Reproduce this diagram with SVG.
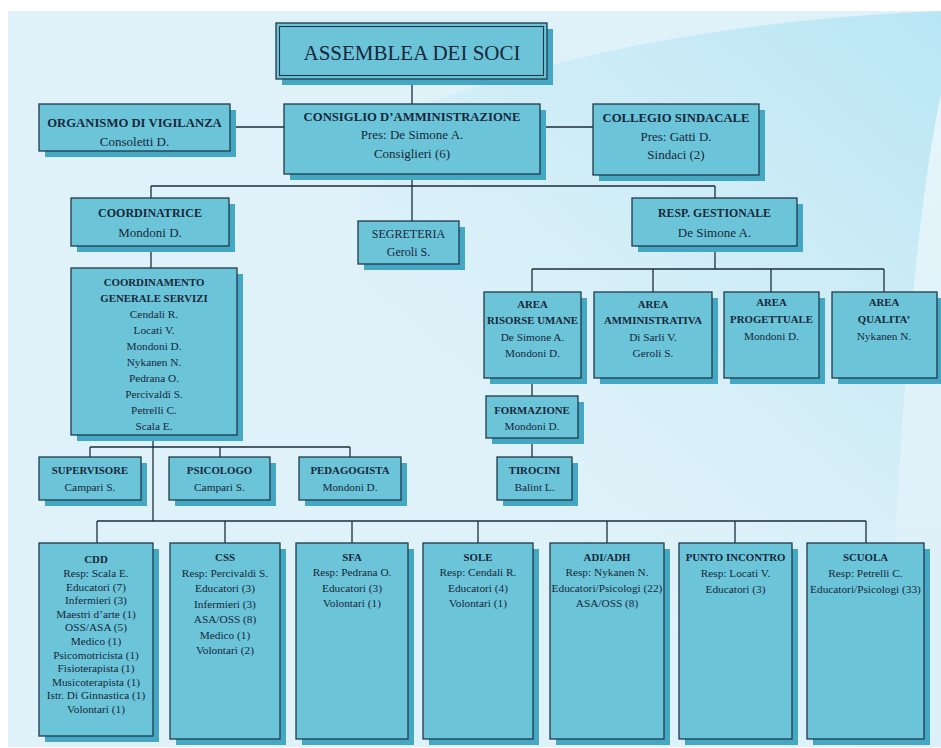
<svg xmlns="http://www.w3.org/2000/svg" width="941" height="748" viewBox="0 0 941 748">
<defs>
<linearGradient id="sw" gradientUnits="userSpaceOnUse" x1="941" y1="20" x2="520" y2="520">
<stop offset="0" stop-color="#b9e6f5" stop-opacity="1"/>
<stop offset="0.55" stop-color="#c9ebf6" stop-opacity="0.6"/>
<stop offset="1" stop-color="#dcf0f8" stop-opacity="0"/>
</linearGradient>
<linearGradient id="sl" gradientUnits="userSpaceOnUse" x1="941" y1="100" x2="941" y2="700">
<stop offset="0" stop-color="#e4f5fb"/>
<stop offset="1" stop-color="#dcf0f8"/>
</linearGradient>
</defs>
<style>
.sh{fill:#44a8c4}
.bx{fill:#6cc4d9;stroke:#23394b;stroke-width:1.3}
.t{font-family:"Liberation Serif","Times New Roman",serif;text-anchor:middle;fill:#16283a}
.b{font-weight:bold}
.f13{font-size:13px}
.f12{font-size:12px}
.f11{font-size:11.3px}
.f10{font-size:10.8px}
#connectors line{stroke:#1d2d3b;stroke-width:1.3}
</style>
<rect x="0" y="0" width="941" height="748" fill="#ffffff"/>
<rect x="8" y="11" width="933" height="736" fill="#dff2f9"/>
<path d="M 360 130 Q 600 25 941 11 L 941 95 Q 905 260 885 747 L 360 747 Z" fill="url(#sw)"/>
<path d="M 941 95 Q 905 260 885 747 L 941 747 Z" fill="url(#sl)"/>

<g id="connectors">
<line x1="412" y1="79" x2="412" y2="104"/>
<line x1="230" y1="127" x2="284" y2="127"/>
<line x1="540" y1="127" x2="593" y2="127"/>
<line x1="412" y1="174" x2="412" y2="186"/>
<line x1="151" y1="186" x2="715" y2="186"/>
<line x1="151" y1="186" x2="151" y2="198"/>
<line x1="412" y1="186" x2="412" y2="221"/>
<line x1="715" y1="186" x2="715" y2="198"/>
<line x1="151" y1="246" x2="151" y2="268"/>
<line x1="153" y1="435" x2="153" y2="521"/>
<line x1="90" y1="447" x2="350" y2="447"/>
<line x1="90" y1="447" x2="90" y2="457"/>
<line x1="220" y1="447" x2="220" y2="457"/>
<line x1="350" y1="447" x2="350" y2="457"/>
<line x1="715" y1="246" x2="715" y2="269"/>
<line x1="532" y1="269" x2="884" y2="269"/>
<line x1="532" y1="269" x2="532" y2="292"/>
<line x1="653" y1="269" x2="653" y2="292"/>
<line x1="771" y1="269" x2="771" y2="292"/>
<line x1="884" y1="269" x2="884" y2="292"/>
<line x1="532" y1="378" x2="532" y2="396"/>
<line x1="532" y1="438" x2="532" y2="457"/>
<line x1="97" y1="521" x2="866" y2="521"/>
<line x1="97" y1="521" x2="97" y2="543"/>
<line x1="225" y1="521" x2="225" y2="543"/>
<line x1="352" y1="521" x2="352" y2="543"/>
<line x1="478" y1="521" x2="478" y2="543"/>
<line x1="607" y1="521" x2="607" y2="543"/>
<line x1="735" y1="521" x2="735" y2="543"/>
<line x1="866" y1="521" x2="866" y2="543"/>
</g>

<g id="assemblea">
<rect class="sh" x="282" y="29" width="271" height="56"/>
<rect class="bx" x="276" y="23" width="271" height="56"/>
<rect x="279.5" y="26.5" width="264" height="49" fill="none" stroke="#23394b" stroke-width="1.1"/>
<text class="t" x="412" y="60" font-size="21">ASSEMBLEA DEI SOCI</text>
</g>

<g id="organismo">
<rect class="sh" x="45" y="110" width="191" height="47"/>
<rect class="bx" x="39" y="104" width="191" height="47"/>
<text class="t b" x="134.5" y="127" font-size="12.7">ORGANISMO DI VIGILANZA</text>
<text class="t f13" x="134.5" y="146">Consoletti D.</text>
</g>

<g id="consiglio">
<rect class="sh" x="290" y="110" width="256" height="70"/>
<rect class="bx" x="284" y="104" width="256" height="70"/>
<text class="t b" x="412" y="121" font-size="12.7">CONSIGLIO D’AMMINISTRAZIONE</text>
<text class="t f13" x="412" y="139">Pres: De Simone A.</text>
<text class="t f13" x="412" y="158">Consiglieri (6)</text>
</g>

<g id="collegio">
<rect class="sh" x="599" y="110" width="166" height="71"/>
<rect class="bx" x="593" y="104" width="166" height="71"/>
<text class="t b" x="676" y="122" font-size="12.7">COLLEGIO SINDACALE</text>
<text class="t f13" x="676" y="141">Pres: Gatti D.</text>
<text class="t f13" x="676" y="159">Sindaci (2)</text>
</g>

<g id="coordinatrice">
<rect class="sh" x="77" y="204" width="158" height="48"/>
<rect class="bx" x="71" y="198" width="158" height="48"/>
<text class="t b f12" x="150" y="217">COORDINATRICE</text>
<text class="t f13" x="150" y="237">Mondoni D.</text>
</g>

<g id="segreteria">
<rect class="sh" x="364" y="227" width="101" height="43"/>
<rect class="bx" x="358" y="221" width="101" height="43"/>
<text class="t f12" x="408.5" y="238">SEGRETERIA</text>
<text class="t f12" x="408.5" y="256">Geroli S.</text>
</g>

<g id="resp-gestionale">
<rect class="sh" x="638" y="204" width="165" height="48"/>
<rect class="bx" x="632" y="198" width="165" height="48"/>
<text class="t b" x="714.5" y="217" font-size="11.8">RESP. GESTIONALE</text>
<text class="t f13" x="714.5" y="237">De Simone A.</text>
</g>

<g id="coordinamento">
<rect class="sh" x="77" y="274" width="166" height="167"/>
<rect class="bx" x="71" y="268" width="166" height="167"/>
<text class="t b f10" x="154" y="286">COORDINAMENTO</text>
<text class="t b f10" x="154" y="302">GENERALE SERVIZI</text>
<text class="t f11" x="154" y="318">Cendali R.</text>
<text class="t f11" x="154" y="334">Locati V.</text>
<text class="t f11" x="154" y="350">Mondoni D.</text>
<text class="t f11" x="154" y="366">Nykanen N.</text>
<text class="t f11" x="154" y="382">Pedrana O.</text>
<text class="t f11" x="154" y="398">Percivaldi S.</text>
<text class="t f11" x="154" y="414">Petrelli C.</text>
<text class="t f11" x="154" y="430">Scala E.</text>
</g>

<g id="supervisore">
<rect class="sh" x="45" y="463" width="102" height="43"/>
<rect class="bx" x="39" y="457" width="102" height="43"/>
<text class="t b f10" x="90" y="474">SUPERVISORE</text>
<text class="t f11" x="90" y="491">Campari S.</text>
</g>

<g id="psicologo">
<rect class="sh" x="175" y="463" width="101" height="43"/>
<rect class="bx" x="169" y="457" width="101" height="43"/>
<text class="t b f10" x="219.5" y="474">PSICOLOGO</text>
<text class="t f11" x="219.5" y="491">Campari S.</text>
</g>

<g id="pedagogista">
<rect class="sh" x="305" y="463" width="102" height="43"/>
<rect class="bx" x="299" y="457" width="102" height="43"/>
<text class="t b f10" x="350" y="474">PEDAGOGISTA</text>
<text class="t f11" x="350" y="491">Mondoni D.</text>
</g>

<g id="area-risorse-umane">
<rect class="sh" x="490" y="298" width="97" height="86"/>
<rect class="bx" x="484" y="292" width="97" height="86"/>
<text class="t b f10" x="532.5" y="308">AREA</text>
<text class="t b f10" x="532.5" y="324">RISORSE UMANE</text>
<text class="t f11" x="532.5" y="341">De Simone A.</text>
<text class="t f11" x="532.5" y="357">Mondoni D.</text>
</g>

<g id="area-amministrativa">
<rect class="sh" x="600" y="298" width="118" height="86"/>
<rect class="bx" x="594" y="292" width="118" height="86"/>
<text class="t b f10" x="653" y="308">AREA</text>
<text class="t b f10" x="653" y="324">AMMINISTRATIVA</text>
<text class="t f11" x="653" y="341">Di Sarli V.</text>
<text class="t f11" x="653" y="357">Geroli S.</text>
</g>

<g id="area-progettuale">
<rect class="sh" x="730" y="298" width="95" height="86"/>
<rect class="bx" x="724" y="292" width="95" height="86"/>
<text class="t b f10" x="771.5" y="306">AREA</text>
<text class="t b f10" x="771.5" y="323">PROGETTUALE</text>
<text class="t f11" x="771.5" y="340">Mondoni D.</text>
</g>

<g id="area-qualita">
<rect class="sh" x="838" y="298" width="105" height="86"/>
<rect class="bx" x="832" y="292" width="105" height="86"/>
<text class="t b f10" x="884" y="306">AREA</text>
<text class="t b f10" x="884" y="323">QUALITA’</text>
<text class="t f11" x="884" y="340">Nykanen N.</text>
</g>

<g id="formazione">
<rect class="sh" x="492" y="402" width="92" height="42"/>
<rect class="bx" x="486" y="396" width="92" height="42"/>
<text class="t b f10" x="532" y="414">FORMAZIONE</text>
<text class="t f11" x="532" y="430">Mondoni D.</text>
</g>

<g id="tirocini">
<rect class="sh" x="503" y="463" width="75" height="43"/>
<rect class="bx" x="497" y="457" width="75" height="43"/>
<text class="t b f10" x="534.5" y="474">TIROCINI</text>
<text class="t f11" x="534.5" y="491">Balint L.</text>
</g>

<g id="cdd">
<rect class="sh" x="45" y="549" width="114" height="193"/>
<rect class="bx" x="39" y="543" width="114" height="193"/>
<text class="t b f10" x="96" y="563">CDD</text>
<text class="t f11" x="96" y="577">Resp: Scala E.</text>
<text class="t f11" x="96" y="590.6">Educatori (7)</text>
<text class="t f11" x="96" y="604.2">Infermieri (3)</text>
<text class="t f11" x="96" y="617.8">Maestri d’arte (1)</text>
<text class="t f11" x="96" y="631.4">OSS/ASA (5)</text>
<text class="t f11" x="96" y="645">Medico (1)</text>
<text class="t f11" x="96" y="658.6">Psicomotricista (1)</text>
<text class="t f11" x="96" y="672.2">Fisioterapista (1)</text>
<text class="t f11" x="96" y="685.8">Musicoterapista (1)</text>
<text class="t f11" x="96" y="699.4">Istr. Di Ginnastica (1)</text>
<text class="t f11" x="96" y="713">Volontari (1)</text>
</g>

<g id="css">
<rect class="sh" x="176" y="549" width="110" height="196"/>
<rect class="bx" x="170" y="543" width="110" height="196"/>
<text class="t b f10" x="225" y="561">CSS</text>
<text class="t f11" x="225" y="577">Resp: Percivaldi S.</text>
<text class="t f11" x="225" y="592.4">Educatori (3)</text>
<text class="t f11" x="225" y="607.8">Infermieri (3)</text>
<text class="t f11" x="225" y="623.2">ASA/OSS (8)</text>
<text class="t f11" x="225" y="638.6">Medico (1)</text>
<text class="t f11" x="225" y="654">Volontari (2)</text>
</g>

<g id="sfa">
<rect class="sh" x="302" y="549" width="112" height="196"/>
<rect class="bx" x="296" y="543" width="112" height="196"/>
<text class="t b f10" x="352" y="561">SFA</text>
<text class="t f11" x="352" y="576">Resp: Pedrana O.</text>
<text class="t f11" x="352" y="591.5">Educatori (3)</text>
<text class="t f11" x="352" y="607">Volontari (1)</text>
</g>

<g id="sole">
<rect class="sh" x="429" y="549" width="110" height="196"/>
<rect class="bx" x="423" y="543" width="110" height="196"/>
<text class="t b f10" x="478" y="561">SOLE</text>
<text class="t f11" x="478" y="576">Resp: Cendali R.</text>
<text class="t f11" x="478" y="591.5">Educatori (4)</text>
<text class="t f11" x="478" y="607">Volontari (1)</text>
</g>

<g id="adi-adh">
<rect class="sh" x="556" y="549" width="114" height="196"/>
<rect class="bx" x="550" y="543" width="114" height="196"/>
<text class="t b f10" x="607" y="561">ADI/ADH</text>
<text class="t f11" x="607" y="576">Resp: Nykanen N.</text>
<text class="t f11" x="607" y="591.5">Educatori/Psicologi (22)</text>
<text class="t f11" x="607" y="607">ASA/OSS (8)</text>
</g>

<g id="punto-incontro">
<rect class="sh" x="685" y="549" width="113" height="196"/>
<rect class="bx" x="679" y="543" width="113" height="196"/>
<text class="t b f10" x="735.5" y="561">PUNTO INCONTRO</text>
<text class="t f11" x="735.5" y="577">Resp: Locati V.</text>
<text class="t f11" x="735.5" y="593">Educatori (3)</text>
</g>

<g id="scuola">
<rect class="sh" x="813" y="549" width="117" height="196"/>
<rect class="bx" x="807" y="543" width="117" height="196"/>
<text class="t b f10" x="865.5" y="561">SCUOLA</text>
<text class="t f11" x="865.5" y="577">Resp: Petrelli C.</text>
<text class="t f11" x="865.5" y="593">Educatori/Psicologi (33)</text>
</g>
</svg>
